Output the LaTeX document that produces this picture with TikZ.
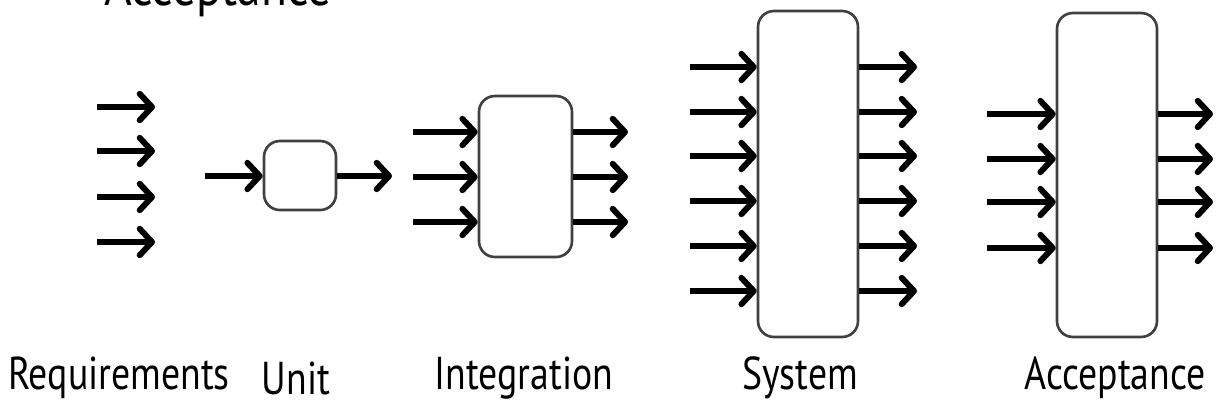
\documentclass[tikz,border=0pt]{standalone}
\usepackage{fontspec}
\setmainfont{PT Sans}
\usetikzlibrary{arrows.meta}

\begin{document}
\begin{tikzpicture}[x=0.02cm,y=-0.02cm,
    flow/.style={line width=3.6pt,-{Straight Barb[length=7pt,width=15pt,line width=3.4pt,round]}},
    box/.style={draw=black!75,line width=1.5pt,rounded corners=9pt,fill=white,inner sep=0pt},
    lbl/.style={font=\fontsize{21.5}{24}\selectfont,yscale=1.22,transform shape}]
        \useasboundingbox (0,0) rectangle (1217,417);
        \clip (0,0) rectangle (1217,417);

        % heading, cut off at the top edge
        \node[anchor=base,font=\fontsize{27}{30}\selectfont,yscale=1.2,transform shape] (head) at (218,5) {Acceptance};

        % the test levels as boxes
        \node[box,minimum width=1.44cm,minimum height=1.38cm] (unit) at (300,175.5) {};
        \node[box,minimum width=1.86cm,minimum height=3.22cm] (integ) at (525.5,176.5) {};
        \node[box,minimum width=2.0cm,minimum height=6.52cm] (sys) at (808,174) {};
        \node[box,minimum width=2.0cm,minimum height=6.48cm] (accept) at (1107,175) {};

        % requirements: free arrows
        \foreach \y [count=\i] in {107,151,197,242} {
                \coordinate (req\i a) at (97,\y);
                \coordinate (req\i b) at (155,\y);
                \draw[flow] (req\i a) -- (req\i b);
        }

        % unit
        \coordinate (unitin) at (205,176);
        \coordinate (unitout) at (392,176);
        \draw[flow] (unitin) -- (unitin -| unit.west);
        \draw[flow] (unitout -| unit.east) -- (unitout);

        % integration
        \foreach \y [count=\i] in {132,177,222} {
                \coordinate (integin\i) at (413,\y);
                \coordinate (integout\i) at (628,\y);
                \draw[flow] (integin\i) -- (integin\i -| integ.west);
                \draw[flow] (integout\i -| integ.east) -- (integout\i);
        }

        % system
        \foreach \y [count=\i] in {67,112,156,201,246,291} {
                \coordinate (sysin\i) at (690,\y);
                \coordinate (sysout\i) at (917,\y);
                \draw[flow] (sysin\i) -- (sysin\i -| sys.west);
                \draw[flow] (sysout\i -| sys.east) -- (sysout\i);
        }

        % acceptance
        \foreach \y [count=\i] in {114,159,202,248} {
                \coordinate (accin\i) at (987,\y);
                \coordinate (accout\i) at (1213,\y);
                \draw[flow] (accin\i) -- (accin\i -| accept.west);
                \draw[flow] (accout\i -| accept.east) -- (accout\i);
        }

        % names of the levels
        \node[lbl] (lreq) at (119,378) {Requirements};
        \node[lbl] (lunit) at (296,378) {Unit};
        \node[lbl] (linteg) at (524,378) {Integration};
        \node[lbl] (lsys) at (800,378) {System};
        \node[lbl] (lacc) at (1115,378) {Acceptance};
\end{tikzpicture}
\end{document}
